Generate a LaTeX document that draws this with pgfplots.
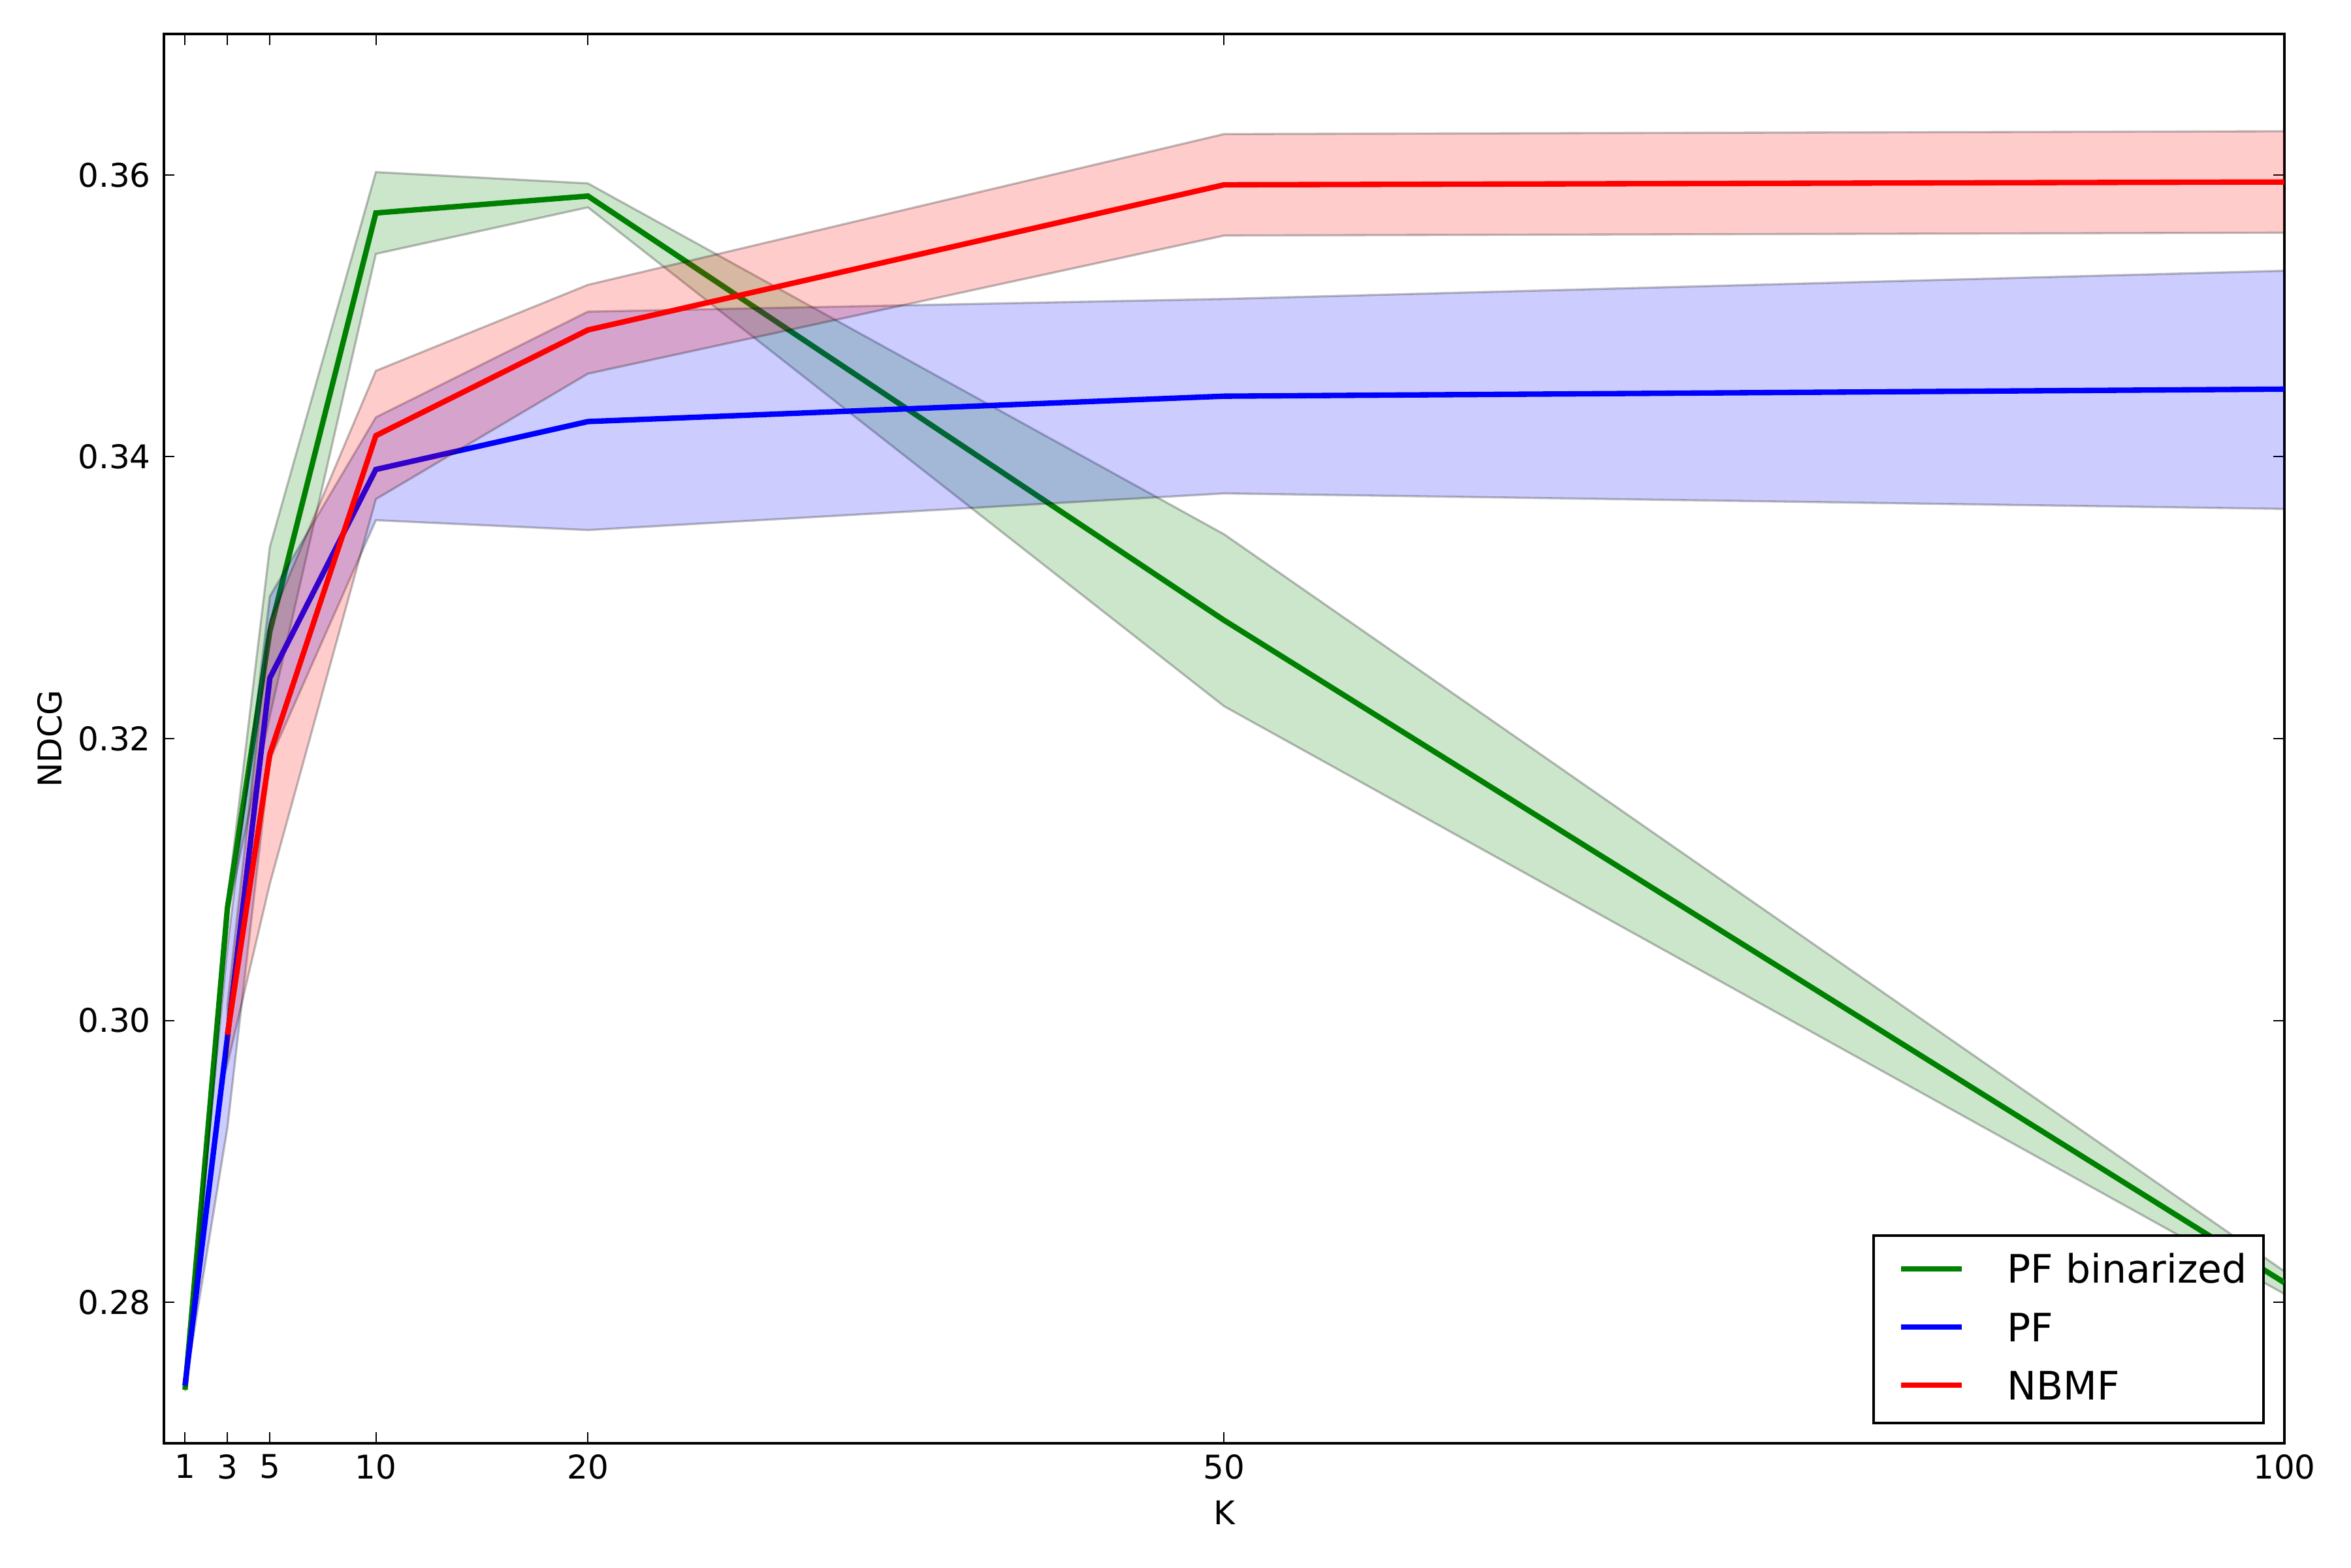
\documentclass[border=0pt]{standalone}
\usepackage{fontspec}
\setmainfont{DejaVu Sans}
\usepackage{pgfplots}
\pgfplotsset{compat=1.18}
\definecolor{mgreen}{rgb}{0,0.5,0}
\definecolor{mblue}{rgb}{0,0,1}
\definecolor{mred}{rgb}{1,0,0}
\begin{document}
\begin{tikzpicture}
\useasboundingbox (-60.2pt,-45.6pt) rectangle (803.8pt,530.4pt);
\begin{axis}[
  scale only axis,
  width=779.3pt, height=517.9pt,
  xmin=0, xmax=100, ymin=0.27, ymax=0.37,
  xtick={1,3,5,10,20,50,100},
  ytick={0.28,0.30,0.32,0.34,0.36},
  /pgf/number format/assume math mode=true,
  yticklabel style={/pgf/number format/fixed, /pgf/number format/fixed zerofill, /pgf/number format/precision=2, xshift=-1.3pt},
  tick label style={font=\fontsize{12}{14.4}\selectfont, black},
  xticklabel style={yshift=-0.6pt},
  tick align=inside,
  major tick length=4pt,
  tick style={line width=0.5pt, black},
  axis line style={line width=1pt, black},
  xlabel={K}, ylabel={NDCG},
  label style={font=\fontsize{12}{14.4}\selectfont},
  xlabel style={at={(axis description cs:0.5,-0.0575)}, anchor=base, inner sep=0pt},
  ylabel style={at={(axis description cs:-0.0477,0.5)}, anchor=south, inner sep=0pt},
  legend style={at={(axis description cs:0.9907,0.0134)}, anchor=south east,
    draw=black, line width=1pt, font=\fontsize{14.4}{17}\selectfont,
    inner xsep=6pt, inner ysep=2.3pt, row sep=0pt, column sep=15.7pt,
    nodes={inner sep=0pt, text height=15.1pt, text depth=6.3pt}},
  legend cell align=left,
  legend image code/.code={\path (0pt,0pt); \draw[#1, line width=2pt] (3.1pt,0.9pt) -- (25.3pt,0.9pt);},
]
% PF binarized band
\addplot[forget plot, fill=mgreen, fill opacity=0.2, draw=black, draw opacity=0.25, line width=0.8pt]
 coordinates {(1,0.2739) (3,0.3085) (5,0.3336) (10,0.3602) (20,0.3594) (50,0.3345) (100,0.2822)
              (100,0.2806) (50,0.3223) (20,0.3577) (10,0.3544) (5,0.3216) (3,0.3075) (1,0.2737)} -- cycle;
\addplot[mgreen, line width=2pt]
 coordinates {(1,0.2738) (3,0.3080) (5,0.3276) (10,0.3573) (20,0.3585) (50,0.3284) (100,0.2814)};
\addlegendentry{PF binarized}
% PF band
\addplot[forget plot, fill=mblue, fill opacity=0.2, draw=black, draw opacity=0.25, line width=0.8pt]
 coordinates {(1,0.2742) (3,0.3052) (5,0.3301) (10,0.3428) (20,0.3503) (50,0.3512) (100,0.3532)
              (100,0.3363) (50,0.3374) (20,0.3348) (10,0.3355) (5,0.3185) (3,0.2924) (1,0.2740)} -- cycle;
\addplot[mblue, line width=2pt]
 coordinates {(1,0.2741) (3,0.2988) (5,0.3243) (10,0.3391) (20,0.3425) (50,0.3443) (100,0.3448)};
\addlegendentry{PF}
% NBMF band
\addplot[forget plot, fill=mred, fill opacity=0.2, draw=black, draw opacity=0.25, line width=0.8pt]
 coordinates {(3,0.3011) (5,0.3283) (10,0.3461) (20,0.3522) (50,0.3629) (100,0.3631)
              (100,0.3559) (50,0.3557) (20,0.3459) (10,0.3370) (5,0.3097) (3,0.2969)} -- cycle;
\addplot[mred, line width=2pt]
 coordinates {(3,0.2990) (5,0.3189) (10,0.3415) (20,0.3490) (50,0.3593) (100,0.3595)};
\addlegendentry{NBMF}
\end{axis}
\end{tikzpicture}
\end{document}
